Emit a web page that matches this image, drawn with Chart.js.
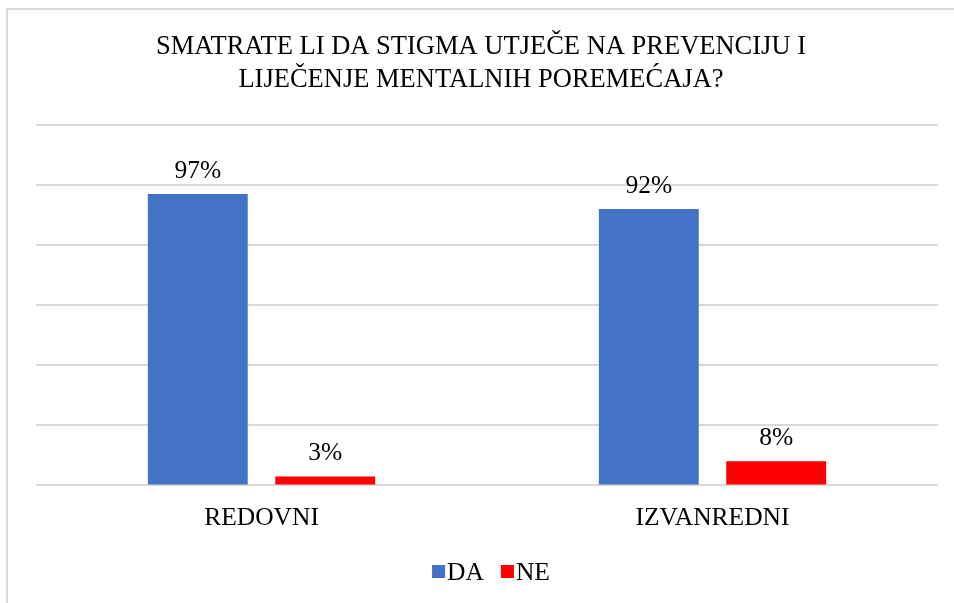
<!DOCTYPE html>
<html>
<head>
<meta charset="utf-8">
<script src="https://cdn.jsdelivr.net/npm/chart.js@4/dist/chart.umd.min.js"></script>
<style>
  body { margin: 0; background: #fff; }
  #wrap { position: relative; width: 954px; height: 603px; overflow: hidden; }
  #frame { position: absolute; left: 6px; top: 8px; width: 980px; height: 620px; border: 2px solid #d9d9d9; }
  canvas { position: absolute; left: 0; top: 0; }
</style>
</head>
<body>
<div id="wrap">
  <div id="frame"></div>
  <canvas id="chart" width="954" height="603"></canvas>
</div>
<script>
const categories = ['REDOVNI', 'IZVANREDNI'];
const daValues = [97, 92];
const neValues = [3, 8];
const seriesNames = ['DA', 'NE'];
const seriesColors = ['#4472C4', '#FF0000'];
const titleLines = ['SMATRATE LI DA STIGMA UTJEČE NA PREVENCIJU I', 'LIJEČENJE MENTALNIH POREMEĆAJA?'];

const serif = '"Liberation Serif", "Times New Roman", serif';

// title, value labels and legend drawn by hand to get Excel-like spacing
const decorations = {
  id: 'decorations',
  afterDatasetsDraw(chart) {
    const ctx = chart.ctx;
    ctx.save();
    ctx.fillStyle = '#000';

    // title
    ctx.font = '26.5px ' + serif;
    ctx.textAlign = 'center';
    ctx.textBaseline = 'middle';
    titleLines.forEach((line, i) => ctx.fillText(line, 481, 47 + i * 33));

    // value labels above bars
    ctx.font = '25.5px ' + serif;
    ctx.textBaseline = 'alphabetic';
    chart.data.datasets.forEach((ds, i) => {
      chart.getDatasetMeta(i).data.forEach((bar, j) => {
        ctx.fillText(ds.data[j] + '%', bar.x, bar.y - 16);
      });
    });

    // legend
    const box = 13, gap = 2, spacing = 17;
    const widths = chart.data.datasets.map(ds => ctx.measureText(ds.label).width);
    let total = 0;
    widths.forEach((w, i) => { total += box + gap + w + (i ? spacing : 0); });
    let x = 491 - total / 2;
    ctx.textAlign = 'left';
    chart.data.datasets.forEach((ds, i) => {
      ctx.fillStyle = ds.backgroundColor;
      ctx.fillRect(x, 565, box, box);
      ctx.fillStyle = '#000';
      ctx.fillText(ds.label, x + box + gap, 580);
      x += box + gap + widths[i] + spacing;
    });
    ctx.restore();
  }
};

new Chart(document.getElementById('chart'), {
  type: 'bar',
  data: {
    labels: categories,
    datasets: [
      { label: seriesNames[0], data: daValues, backgroundColor: seriesColors[0] },
      { label: seriesNames[1], data: neValues, backgroundColor: seriesColors[1] }
    ]
  },
  options: {
    responsive: false,
    animation: false,
    devicePixelRatio: 1,
    categoryPercentage: 0.565,
    barPercentage: 0.784,
    layout: { padding: { left: 36, right: 16, top: 125, bottom: 51 } },
    plugins: {
      title: { display: false },
      legend: { display: false },
      tooltip: { enabled: false }
    },
    scales: {
      x: {
        grid: { display: false, drawTicks: false },
        border: { display: false },
        ticks: { color: '#000', font: { family: serif, size: 25.5 }, padding: 18 }
      },
      y: {
        min: 0,
        max: 120,
        ticks: { display: false, stepSize: 20 },
        border: { display: false },
        grid: { color: '#d9d9d9', lineWidth: 2, drawTicks: false }
      }
    }
  },
  plugins: [decorations]
});
</script>
</body>
</html>
